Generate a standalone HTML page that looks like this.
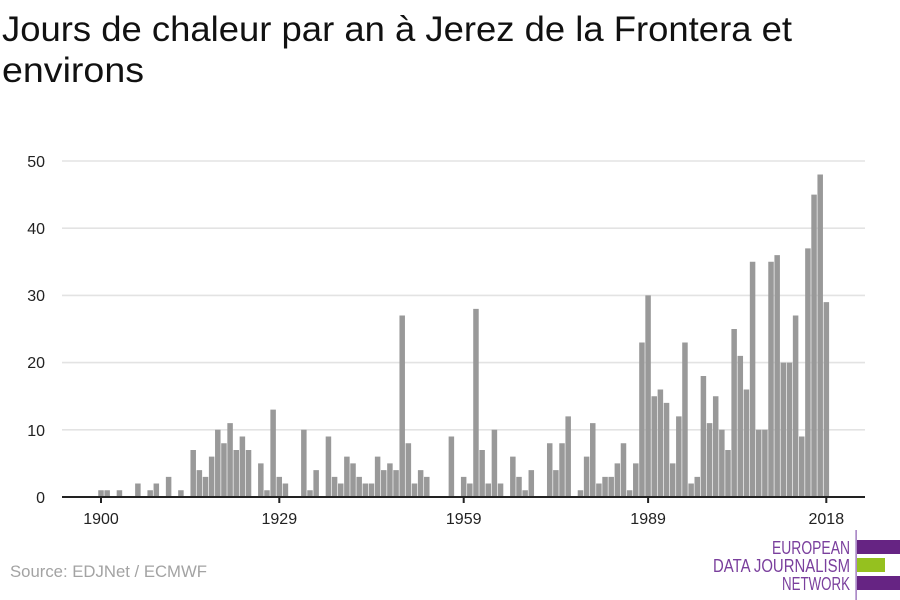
<!DOCTYPE html>
<html><head><meta charset="utf-8"><style>
html,body{margin:0;padding:0;background:#fff;}
svg{display:block;}
</style></head><body>
<svg width="900" height="600" viewBox="0 0 900 600" xmlns="http://www.w3.org/2000/svg" font-family="Liberation Sans, DejaVu Sans, sans-serif">
<rect width="900" height="600" fill="#fff"/>
<text x="2" y="41" font-size="35" fill="#111" textLength="790" lengthAdjust="spacingAndGlyphs">Jours de chaleur par an à Jerez de la Frontera et</text>
<text x="2" y="82" font-size="35" fill="#111" textLength="142" lengthAdjust="spacingAndGlyphs">environs</text>
<g stroke="#e3e3e3" stroke-width="1.6">
<line x1="62" y1="161" x2="865" y2="161"/>
<line x1="62" y1="228.2" x2="865" y2="228.2"/>
<line x1="62" y1="295.4" x2="865" y2="295.4"/>
<line x1="62" y1="362.6" x2="865" y2="362.6"/>
<line x1="62" y1="429.8" x2="865" y2="429.8"/>
</g>
<g font-size="16" fill="#222" text-anchor="end">
<text x="45" y="167">50</text>
<text x="45" y="234">40</text>
<text x="45" y="301">30</text>
<text x="45" y="368">20</text>
<text x="45" y="436">10</text>
<text x="45" y="503">0</text>
</g>
<g transform="translate(98.25,497) scale(6.147,-6.72)">
<path fill="#999999" d="M0 0v1h.895v-1z M1 0v1h.895v-1z M3 0v1h.895v-1z M6 0v2h.895v-2z M8 0v1h.895v-1z M9 0v2h.895v-2z M11 0v3h.895v-3z M13 0v1h.895v-1z M15 0v7h.895v-7z M16 0v4h.895v-4z M17 0v3h.895v-3z M18 0v6h.895v-6z M19 0v10h.895v-10z M20 0v8h.895v-8z M21 0v11h.895v-11z M22 0v7h.895v-7z M23 0v9h.895v-9z M24 0v7h.895v-7z M26 0v5h.895v-5z M27 0v1h.895v-1z M28 0v13h.895v-13z M29 0v3h.895v-3z M30 0v2h.895v-2z M33 0v10h.895v-10z M34 0v1h.895v-1z M35 0v4h.895v-4z M37 0v9h.895v-9z M38 0v3h.895v-3z M39 0v2h.895v-2z M40 0v6h.895v-6z M41 0v5h.895v-5z M42 0v3h.895v-3z M43 0v2h.895v-2z M44 0v2h.895v-2z M45 0v6h.895v-6z M46 0v4h.895v-4z M47 0v5h.895v-5z M48 0v4h.895v-4z M49 0v27h.895v-27z M50 0v8h.895v-8z M51 0v2h.895v-2z M52 0v4h.895v-4z M53 0v3h.895v-3z M57 0v9h.895v-9z M59 0v3h.895v-3z M60 0v2h.895v-2z M61 0v28h.895v-28z M62 0v7h.895v-7z M63 0v2h.895v-2z M64 0v10h.895v-10z M65 0v2h.895v-2z M67 0v6h.895v-6z M68 0v3h.895v-3z M69 0v1h.895v-1z M70 0v4h.895v-4z M73 0v8h.895v-8z M74 0v4h.895v-4z M75 0v8h.895v-8z M76 0v12h.895v-12z M78 0v1h.895v-1z M79 0v6h.895v-6z M80 0v11h.895v-11z M81 0v2h.895v-2z M82 0v3h.895v-3z M83 0v3h.895v-3z M84 0v5h.895v-5z M85 0v8h.895v-8z M86 0v1h.895v-1z M87 0v5h.895v-5z M88 0v23h.895v-23z M89 0v30h.895v-30z M90 0v15h.895v-15z M91 0v16h.895v-16z M92 0v14h.895v-14z M93 0v5h.895v-5z M94 0v12h.895v-12z M95 0v23h.895v-23z M96 0v2h.895v-2z M97 0v3h.895v-3z M98 0v18h.895v-18z M99 0v11h.895v-11z M100 0v15h.895v-15z M101 0v10h.895v-10z M102 0v7h.895v-7z M103 0v25h.895v-25z M104 0v21h.895v-21z M105 0v16h.895v-16z M106 0v35h.895v-35z M107 0v10h.895v-10z M108 0v10h.895v-10z M109 0v35h.895v-35z M110 0v36h.895v-36z M111 0v20h.895v-20z M112 0v20h.895v-20z M113 0v27h.895v-27z M114 0v9h.895v-9z M115 0v37h.895v-37z M116 0v45h.895v-45z M117 0v48h.895v-48z M118 0v29h.895v-29z"/>
</g>
<rect x="62" y="496" width="803" height="2" fill="#222"/>
<g fill="#222">
<rect x="100" y="497" width="2" height="6"/>
<rect x="278.3" y="497" width="2" height="6"/>
<rect x="462.7" y="497" width="2" height="6"/>
<rect x="647.1" y="497" width="2" height="6"/>
<rect x="825.3" y="497" width="2" height="6"/>
</g>
<g font-size="16" fill="#222" text-anchor="middle">
<text x="101" y="524">1900</text>
<text x="279.3" y="524">1929</text>
<text x="463.7" y="524">1959</text>
<text x="648.1" y="524">1989</text>
<text x="826.3" y="524">2018</text>
</g>
<text x="10" y="577" font-size="17" fill="#a3a3a3" textLength="197" lengthAdjust="spacingAndGlyphs">Source: EDJNet / ECMWF</text>
<rect x="855.5" y="530" width="1.2" height="70" fill="#8a5bb0"/>
<rect x="857" y="540" width="43" height="14" fill="#662483"/>
<rect x="857" y="558" width="28" height="14" fill="#95c11f"/>
<rect x="857" y="576" width="43" height="14" fill="#662483"/>
<g font-size="18" fill="#7a3f9d" text-anchor="end">
<text x="850" y="554" textLength="78" lengthAdjust="spacingAndGlyphs">EUROPEAN</text>
<text x="850" y="572" textLength="137" lengthAdjust="spacingAndGlyphs">DATA JOURNALISM</text>
<text x="850" y="590" textLength="68" lengthAdjust="spacingAndGlyphs">NETWORK</text>
</g>
</svg>
</body></html>
